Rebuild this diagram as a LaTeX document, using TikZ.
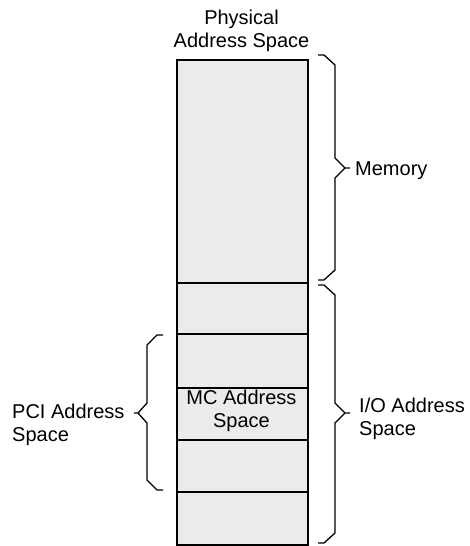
\documentclass[tikz,border=0pt]{standalone}
\usepackage{fontspec}
\setmainfont{Liberation Sans}
\begin{document}
\begin{tikzpicture}[x=1pt,y=-1pt,
  cell/.style={draw=black,fill=boxgray,line width=1.5pt,rectangle,inner sep=0pt,anchor=north west,minimum width=131pt},
  lbl/.style={inner sep=0pt,font=\fontsize{20}{23}\selectfont},
  brace/.style={draw=black,line width=1.3pt,line join=miter}]
\definecolor{boxgray}{HTML}{EBEBEB}
\useasboundingbox (0,0) rectangle (469,546);
% column cells
\node[cell,minimum height=223pt] (r1) at (176,59) {};
\node[cell,minimum height=51pt] (r2) at (176,282) {};
\node[cell,minimum height=54pt] (r3) at (176,333) {};
\node[cell,minimum height=52pt] (r4) at (176,387) {};
\node[cell,minimum height=52pt] (r5) at (176,439) {};
\node[cell,minimum height=53pt] (r6) at (176,491) {};
% labels
\node[lbl,anchor=north,align=center] (title) at (241.5,10) {Physical\\Address Space};
\node[lbl,anchor=north,align=center] (mc) at (241.5,390) {MC Address\\Space};
\node[lbl,anchor=north west,align=left] (mem) at (355,162) {Memory};
\node[lbl,anchor=north west,align=left] (io) at (359,398) {I/O Address\\Space};
\node[lbl,anchor=north west,align=left] (pci) at (12,404) {PCI Address\\Space};
% Memory brace
\draw[brace] (318,55) -- (324,55) -- (335,65) -- (335,158) -- (345,168) -- (350,168)
  (345,168) -- (335,178) -- (335,270) -- (324,280) -- (318,280);
% I/O brace
\draw[brace] (318,285) -- (324,285) -- (335,295) -- (335,403) -- (345,413) -- (350,413)
  (345,413) -- (335,423) -- (335,533) -- (324,543) -- (318,543);
% PCI brace
\draw[brace] (163,335) -- (157,335) -- (147,345) -- (147,403) -- (138,413) -- (134,413)
  (138,413) -- (147,423) -- (147,480) -- (157,490) -- (163,490);
\end{tikzpicture}
\end{document}
